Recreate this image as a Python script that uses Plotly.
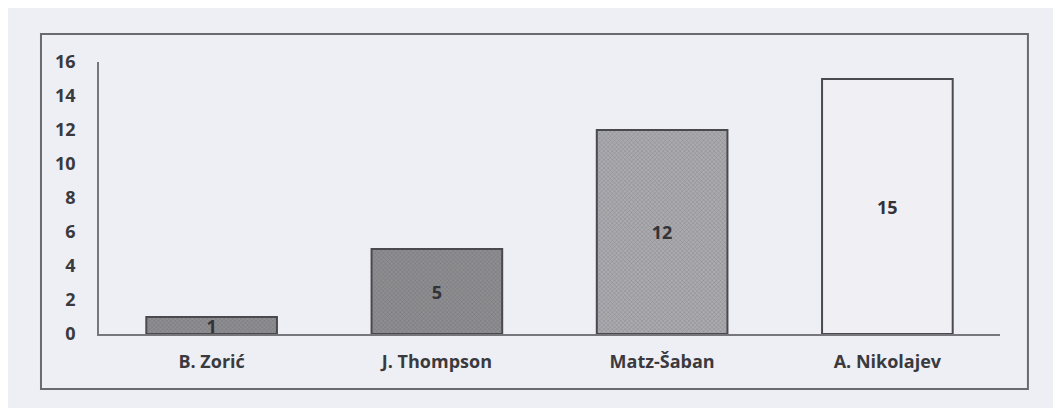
import plotly.graph_objects as go

categories = ["B. Zorić", "J. Thompson", "Matz-Šaban", "A. Nikolajev"]
values = [1, 5, 12, 15]
fill_colors = ["#8e8e92", "#8e8e92", "#ababaf", "#f0f0f4"]
pattern_fg = ["#7a7a7e", "#7a7a7e", "#9a9a9e", "#f0f0f4"]
pattern_shapes = ["x", "x", "x", ""]
y_ticks = [0, 2, 4, 6, 8, 10, 12, 14, 16]

bg = "#eeeff4"
font_family = "'Open Sans', Lato, sans-serif"

fig = go.Figure()
fig.add_trace(go.Bar(
    x=categories,
    y=values,
    width=0.58,
    marker=dict(
        color=fill_colors,
        line=dict(color="#4a4a4e", width=2),
        pattern=dict(shape=pattern_shapes, size=3, solidity=0.2, fgcolor=pattern_fg, bgcolor=fill_colors),
    ),
    text=[str(v) for v in values],
    textposition="inside",
    insidetextanchor="middle",
    textangle=0,
    constraintext="none",
    textfont=dict(family=font_family, size=18, color="#333338", weight="bold"),
    hoverinfo="skip",
))

fig.update_layout(
    width=1061, height=408,
    margin=dict(l=91, r=69, t=54, b=82),
    paper_bgcolor=bg, plot_bgcolor=bg,
    showlegend=False,
    font=dict(family=font_family, color="#444448"),
    shapes=[dict(
        type="rect", xref="paper", yref="paper",
        x0=-0.0644, x1=1.031, y0=-0.202, y1=1.103,
        line=dict(color="#6a6a6e", width=2), fillcolor="rgba(0,0,0,0)", layer="below",
    )],
)
fig.update_xaxes(
    range=[-0.5, 3.5],
    showline=True, linecolor="#77777b", linewidth=1.5,
    showgrid=False, ticks="", ticklabelstandoff=11,
    tickfont=dict(family=font_family, size=18, color="#3a3a3e", weight="bold"),
)
fig.update_yaxes(
    range=[0, 16], tickvals=y_ticks,
    showline=True, linecolor="#77777b", linewidth=1.5,
    showgrid=False, zeroline=False, ticks="", ticklabelstandoff=18,
    tickfont=dict(family=font_family, size=18, color="#3a3a3e", weight="bold"),
)

fig.write_html("out.html")
